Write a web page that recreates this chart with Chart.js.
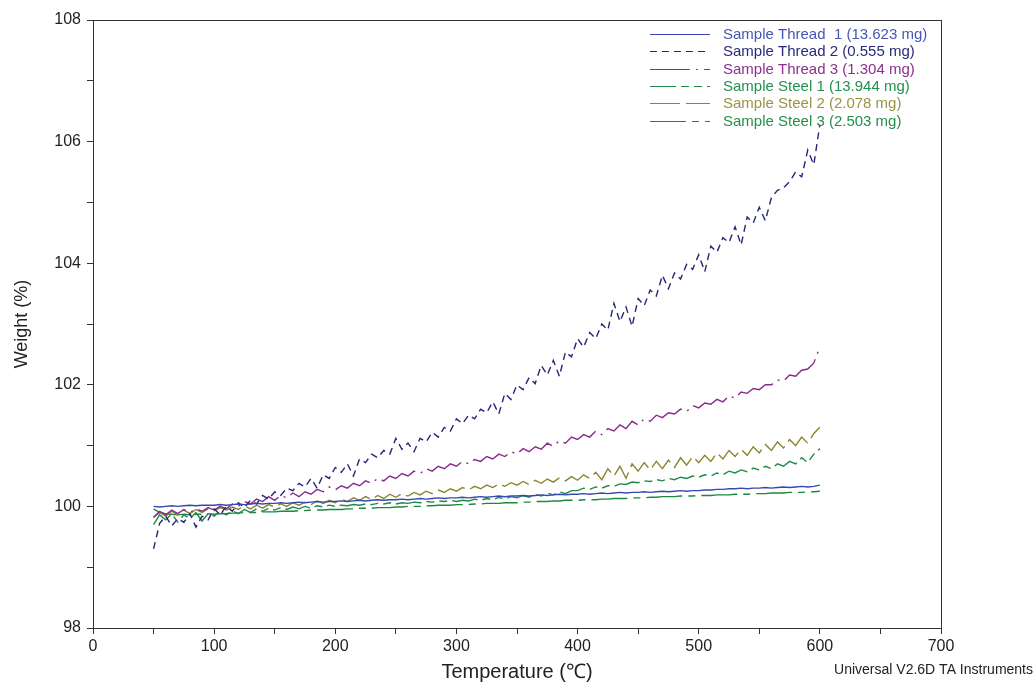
<!DOCTYPE html>
<html>
<head>
<meta charset="utf-8">
<script src="https://cdn.jsdelivr.net/npm/chart.js@4"></script>
<style>
  html, body { margin: 0; padding: 0; background: #fff; }
  canvas { display: block; }
</style>
</head>
<body>
<canvas id="tgaChart" width="1036" height="684"></canvas>
<script>
// temperature axis (°C), one reading every 5 degrees
const temps = [];
for (let t = 50; t <= 600; t += 5) temps.push(t);

const labels = [
  "Sample Thread  1 (13.623 mg)",
  "Sample Thread 2 (0.555 mg)",
  "Sample Thread 3 (1.304 mg)",
  "Sample Steel 1 (13.944 mg)",
  "Sample Steel 2 (2.078 mg)",
  "Sample Steel 3 (2.503 mg)"
];

const thread1 = [
  100.00, 99.99, 100.00, 100.01, 100.00, 100.01, 100.02, 100.01, 100.02, 100.02,
  100.02, 100.03, 100.02, 100.03, 100.04, 100.03, 100.04, 100.05, 100.04, 100.05,
  100.05, 100.06, 100.05, 100.06, 100.07, 100.06, 100.07, 100.08, 100.07, 100.08,
  100.08, 100.09, 100.08, 100.09, 100.10, 100.09, 100.10, 100.11, 100.10, 100.11,
  100.11, 100.12, 100.11, 100.12, 100.13, 100.12, 100.13, 100.14, 100.13, 100.14,
  100.14, 100.15, 100.14, 100.15, 100.16, 100.15, 100.16, 100.17, 100.16, 100.17,
  100.17, 100.18, 100.17, 100.18, 100.19, 100.18, 100.19, 100.20, 100.19, 100.20,
  100.20, 100.21, 100.20, 100.21, 100.22, 100.21, 100.22, 100.23, 100.22, 100.23,
  100.23, 100.24, 100.23, 100.24, 100.25, 100.24, 100.25, 100.26, 100.25, 100.26,
  100.26, 100.27, 100.27, 100.28, 100.28, 100.29, 100.29, 100.30, 100.29, 100.30,
  100.30, 100.31, 100.30, 100.31, 100.32, 100.31, 100.32, 100.33, 100.32, 100.33,
  100.35
];

const thread2 = [
  99.30, 99.72, 99.84, 99.68, 99.80, 99.74, 99.88, 99.66, 99.84, 99.78,
  99.96, 99.86, 100.00, 99.92, 100.06, 99.98, 100.10, 100.04, 100.18, 100.12,
  100.24, 100.18, 100.30, 100.26, 100.38, 100.32, 100.46, 100.30, 100.52, 100.46,
  100.64, 100.56, 100.70, 100.50, 100.78, 100.72, 100.86, 100.80, 100.92, 100.86,
  101.12, 100.94, 101.04, 100.90, 101.12, 101.06, 101.22, 101.14, 101.30, 101.24,
  101.44, 101.36, 101.50, 101.44, 101.60, 101.54, 101.72, 101.52, 101.86, 101.76,
  102.00, 101.92, 102.12, 102.02, 102.32, 102.16, 102.40, 102.14, 102.54, 102.46,
  102.76, 102.62, 102.86, 102.76, 103.00, 102.90, 103.34, 103.04, 103.28, 102.96,
  103.42, 103.30, 103.56, 103.46, 103.80, 103.58, 103.84, 103.74, 103.98, 103.90,
  104.14, 103.86, 104.28, 104.18, 104.42, 104.34, 104.60, 104.30, 104.76, 104.66,
  104.92, 104.70, 105.08, 105.20, 105.24, 105.34, 105.50, 105.42, 105.86, 105.62,
  106.28
];

const thread3 = [
  99.82, 99.92, 99.86, 99.94, 99.88, 99.95, 99.90, 99.96, 99.92, 99.98,
  99.94, 100.00, 99.96, 100.04, 100.00, 100.08, 100.04, 100.12, 100.08, 100.16,
  100.10, 100.18, 100.14, 100.22, 100.16, 100.24, 100.20, 100.28, 100.24, 100.32,
  100.27, 100.34, 100.30, 100.38, 100.34, 100.42, 100.38, 100.46, 100.42, 100.50,
  100.46, 100.54, 100.50, 100.58, 100.54, 100.62, 100.58, 100.66, 100.62, 100.70,
  100.66, 100.74, 100.70, 100.77, 100.74, 100.82, 100.78, 100.86, 100.82, 100.90,
  100.86, 100.95, 100.90, 100.98, 100.94, 101.04, 100.99, 101.08, 101.04, 101.14,
  101.10, 101.18, 101.14, 101.24, 101.18, 101.28, 101.24, 101.34, 101.28, 101.40,
  101.34, 101.44, 101.40, 101.50, 101.46, 101.54, 101.52, 101.60, 101.56, 101.66,
  101.62, 101.70, 101.68, 101.76, 101.72, 101.82, 101.78, 101.88, 101.86, 101.94,
  101.92, 102.00, 102.00, 102.08, 102.06, 102.16, 102.14, 102.24, 102.26, 102.36,
  102.62
];

const steel1 = [
  99.70, 99.86, 99.78, 99.88, 99.74, 99.86, 99.80, 99.90, 99.76, 99.88,
  99.84, 99.92, 99.86, 99.93, 99.88, 99.95, 99.90, 99.96, 99.92, 99.97,
  99.94, 99.98, 99.95, 99.99, 99.96, 100.00, 99.97, 100.01, 99.99, 100.02,
  100.00, 100.02, 100.01, 100.03, 100.02, 100.04, 100.03, 100.05, 100.04, 100.06,
  100.04, 100.06, 100.05, 100.07, 100.06, 100.08, 100.07, 100.09, 100.08, 100.10,
  100.08, 100.10, 100.09, 100.12, 100.10, 100.13, 100.11, 100.15, 100.12, 100.16,
  100.14, 100.18, 100.15, 100.20, 100.17, 100.22, 100.19, 100.24, 100.21, 100.26,
  100.26, 100.30, 100.28, 100.32, 100.30, 100.34, 100.33, 100.37, 100.36, 100.40,
  100.39, 100.42, 100.41, 100.44, 100.42, 100.46, 100.44, 100.48, 100.46, 100.50,
  100.48, 100.52, 100.50, 100.55, 100.52, 100.58, 100.55, 100.60, 100.57, 100.63,
  100.60, 100.66, 100.62, 100.70, 100.66, 100.74, 100.70, 100.80, 100.72, 100.86,
  100.95
];

const steel2 = [
  99.82, 99.90, 99.84, 99.92, 99.86, 99.94, 99.88, 99.95, 99.90, 99.96,
  99.93, 99.98, 99.94, 99.99, 99.95, 100.01, 99.96, 100.02, 99.97, 100.03,
  99.99, 100.04, 100.00, 100.06, 100.02, 100.07, 100.03, 100.09, 100.05, 100.10,
  100.06, 100.12, 100.08, 100.14, 100.10, 100.16, 100.11, 100.18, 100.13, 100.20,
  100.15, 100.21, 100.17, 100.23, 100.19, 100.25, 100.21, 100.27, 100.23, 100.29,
  100.25, 100.31, 100.27, 100.33, 100.29, 100.35, 100.31, 100.37, 100.33, 100.39,
  100.35, 100.41, 100.36, 100.43, 100.38, 100.45, 100.40, 100.47, 100.42, 100.49,
  100.43, 100.52, 100.46, 100.56, 100.44, 100.62, 100.50, 100.66, 100.46, 100.70,
  100.58, 100.72, 100.60, 100.74, 100.62, 100.76, 100.64, 100.80, 100.68, 100.82,
  100.72, 100.84, 100.74, 100.88, 100.78, 100.92, 100.82, 100.94, 100.84, 100.98,
  100.88, 101.02, 100.92, 101.06, 100.96, 101.10, 101.00, 101.14, 101.04, 101.20,
  101.30
];

const steel3 = [
  99.96, 99.90, 99.88, 99.87, 99.86, 99.87, 99.86, 99.87, 99.87, 99.88,
  99.87, 99.88, 99.88, 99.89, 99.89, 99.90, 99.90, 99.90, 99.91, 99.91,
  99.91, 99.92, 99.92, 99.92, 99.93, 99.93, 99.94, 99.94, 99.94, 99.95,
  99.95, 99.95, 99.96, 99.96, 99.97, 99.97, 99.97, 99.98, 99.98, 99.98,
  99.99, 99.99, 100.00, 100.00, 100.00, 100.01, 100.01, 100.02, 100.02, 100.02,
  100.03, 100.03, 100.03, 100.04, 100.04, 100.05, 100.05, 100.05, 100.06, 100.06,
  100.06, 100.07, 100.07, 100.08, 100.08, 100.08, 100.09, 100.09, 100.10, 100.10,
  100.10, 100.11, 100.11, 100.11, 100.12, 100.12, 100.13, 100.13, 100.13, 100.14,
  100.14, 100.14, 100.15, 100.15, 100.16, 100.16, 100.16, 100.17, 100.17, 100.17,
  100.18, 100.18, 100.18, 100.19, 100.19, 100.19, 100.20, 100.20, 100.20, 100.21,
  100.21, 100.21, 100.22, 100.22, 100.22, 100.23, 100.23, 100.23, 100.24, 100.24,
  100.25
];

const seriesValues = [thread1, thread2, thread3, steel1, steel2, steel3];
const lineColors = ["#3848b0", "#25257a", "#8a2a8c", "#1f8a4a", "#8a8630", "#1c8a3c"];
const textColors = ["#4656b4", "#2a2a7c", "#8e3090", "#24904e", "#9a9444", "#24904a"];
const dashes = [[], [7, 5], [40, 6, 2, 6], [26, 5, 8, 5, 8, 5], [30, 6], [36, 6, 7, 6]];

const sans = 'Arial, "Liberation Sans", sans-serif';

const datasets = seriesValues.map((vals, i) => ({
  label: labels[i],
  data: temps.map((t, j) => ({ x: t, y: vals[j] })),
  borderColor: lineColors[i],
  borderWidth: 1.4,
  borderDash: dashes[i],
  pointRadius: 0,
  tension: 0,
  fill: false,
}));

// legend in the top right corner + the frame + software footer
const tgaDecor = {
  id: "tgaDecor",
  afterDraw(chart) {
    const ctx = chart.ctx;
    const a = chart.chartArea;
    ctx.save();
    ctx.strokeStyle = "#333";
    ctx.lineWidth = 1;
    ctx.setLineDash([]);
    ctx.strokeRect(Math.round(a.left) + 0.5, Math.round(a.top) + 0.5,
      Math.round(a.right - a.left), Math.round(a.bottom - a.top));

    ctx.font = "15px " + sans;
    ctx.textBaseline = "middle";
    ctx.textAlign = "left";
    chart.data.datasets.forEach((ds, i) => {
      const y = Math.round(34 + i * 17.3) + 0.5;
      ctx.strokeStyle = ds.borderColor;
      ctx.lineWidth = 1.2;
      ctx.setLineDash(ds.borderDash);
      ctx.beginPath();
      ctx.moveTo(650, y);
      ctx.lineTo(710, y);
      ctx.stroke();
      ctx.fillStyle = textColors[i];
      ctx.fillText(ds.label, 723, y);
    });

    ctx.setLineDash([]);
    ctx.fillStyle = "#222";
    ctx.textAlign = "right";
    ctx.font = '14px "Liberation Sans Narrow", "Arial Narrow", ' + sans;
    ctx.fillText("Universal V2.6D TA Instruments", 1033, 670);
    ctx.restore();
  }
};

new Chart(document.getElementById("tgaChart"), {
  type: "line",
  data: { datasets: datasets },
  options: {
    responsive: false,
    animation: false,
    layout: { padding: { left: 0, top: 20, right: 95, bottom: 0 } },
    plugins: { legend: { display: false }, tooltip: { enabled: false } },
    scales: {
      x: {
        type: "linear",
        min: 0,
        max: 700,
        afterFit: (s) => { s.height = 56; },
        ticks: {
          stepSize: 50,
          autoSkip: false,
          maxRotation: 0,
          padding: 3,
          color: "#222",
          font: { family: sans, size: 16 },
          callback: (v) => (v % 100 === 0 ? v : ""),
        },
        grid: { drawOnChartArea: false, drawTicks: true, tickLength: 6, color: "#333" },
        border: { display: true, color: "#333" },
        title: {
          display: true,
          text: "Temperature (℃)",
          color: "#222",
          font: { family: sans, size: 20 },
          padding: { top: 0, bottom: 0 },
        },
      },
      y: {
        min: 98,
        max: 108,
        afterFit: (s) => { s.width = 93; },
        ticks: {
          stepSize: 1,
          padding: 6,
          color: "#222",
          font: { family: sans, size: 16 },
          callback: (v) => (v % 2 === 0 ? v : ""),
        },
        grid: { drawOnChartArea: false, drawTicks: true, tickLength: 6, color: "#333" },
        border: { display: true, color: "#333" },
        title: {
          display: true,
          text: "Weight (%)",
          color: "#222",
          font: { family: sans, size: 18 },
          padding: { top: 11, bottom: 0 },
        },
      },
    },
  },
  plugins: [tgaDecor],
});
</script>
</body>
</html>
